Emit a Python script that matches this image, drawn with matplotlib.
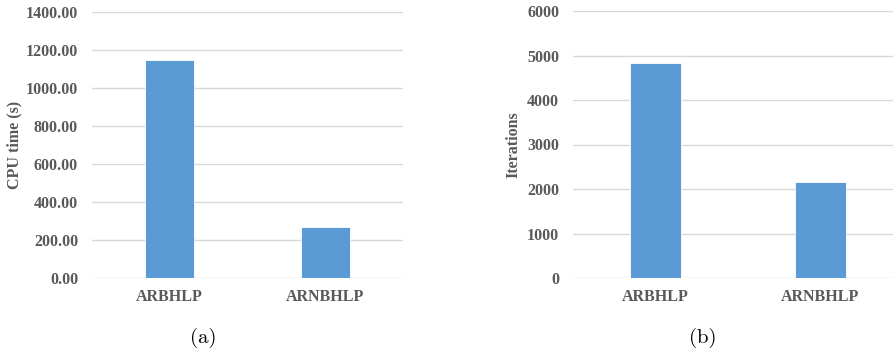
import matplotlib.pyplot as plt
import numpy as np

# data
methods = ['ARBHLP', 'ARNBHLP']
cpu_time = [1150.0, 268.0]
iterations = [4825, 2150]

BAR_COLOR = '#5b9bd5'
TEXT_COLOR = '#595959'
GRID_COLOR = '#d9d9d9'
FONT = 'Liberation Serif'


def style_axes(ax, ymax, step, fmt, ylabel, label_x):
    ax.set_ylim(0, ymax)
    ax.set_xlim(-0.5, 1.5)
    ticks = np.arange(0, ymax + step / 2, step)
    ax.set_yticks(ticks)
    ax.set_yticklabels([fmt.format(t) for t in ticks], fontfamily=FONT,
                       fontweight='bold', fontsize=11.5, color=TEXT_COLOR)
    ax.set_xticks(range(len(methods)))
    ax.set_xticklabels(methods, fontfamily=FONT, fontweight='bold',
                       fontsize=11.5, color=TEXT_COLOR)
    ax.tick_params(axis='y', length=0, pad=10)
    ax.tick_params(axis='x', length=0, pad=8)
    for s in ax.spines.values():
        s.set_visible(False)
    ax.yaxis.grid(True, color=GRID_COLOR, linewidth=1.0)
    ax.set_axisbelow(True)
    ax.set_ylabel(ylabel, fontfamily=FONT, fontweight='bold', fontsize=11.5,
                  color=TEXT_COLOR)
    ax.yaxis.set_label_coords(label_x, 0.5)


fig = plt.figure(figsize=(8.93, 3.55), dpi=100)

ax1 = fig.add_axes([92 / 893, 77 / 355, 311 / 893, 266 / 355])
ax1.bar(range(len(methods)), cpu_time, width=0.315, color=BAR_COLOR,
        edgecolor='white', linewidth=0.6)
style_axes(ax1, 1400, 200, '{:.2f}', 'CPU time (s)', -0.225)

# the right panel's plot area runs a little past the figure edge
ax2 = fig.add_axes([573 / 893, 77 / 355, 330 / 893, 267 / 355])
ax2.bar(range(len(methods)), iterations, width=0.315, color=BAR_COLOR,
        edgecolor='white', linewidth=0.6)
style_axes(ax2, 6000, 1000, '{:.0f}', 'Iterations', -0.155)

fig.text(203 / 893, 1 - 338 / 355, '(a)', family='cmr10', fontsize=15,
         ha='center', va='center')
fig.text(703 / 893, 1 - 338 / 355, '(b)', family='cmr10', fontsize=15,
         ha='center', va='center')

fig.savefig('out.png', dpi=100)
